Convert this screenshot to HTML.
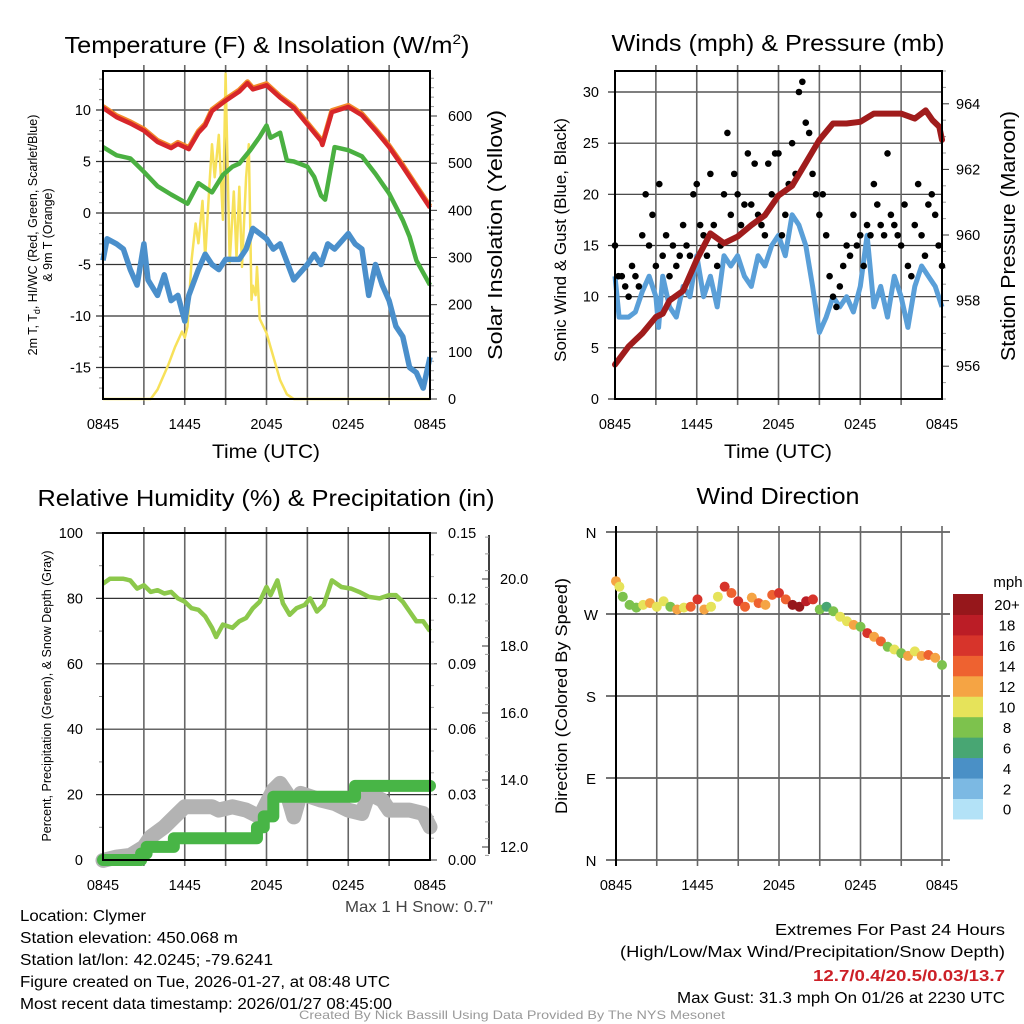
<!DOCTYPE html>
<html><head><meta charset="utf-8"><style>
html,body{margin:0;padding:0;background:#fff;}
svg{display:block;font-family:"Liberation Sans",Arial,sans-serif;}
</style></head><body>
<svg id="fig" width="1024" height="1024" viewBox="0 0 1024 1024" xmlns="http://www.w3.org/2000/svg">
<rect width="1024" height="1024" fill="#fff"/>
<g id="g1"></g>
<g id="g2"></g>
<g id="g3"></g>
<g id="g4"></g>

<text x="267" y="53" font-size="23" text-anchor="middle" textLength="405" lengthAdjust="spacingAndGlyphs">Temperature (F) &amp; Insolation (W/m<tspan dy="-9" font-size="14">2</tspan><tspan dy="9">)</tspan></text>
<text x="778" y="51" font-size="23" text-anchor="middle" textLength="333" lengthAdjust="spacingAndGlyphs">Winds (mph) &amp; Pressure (mb)</text>
<text x="266" y="506" font-size="23" text-anchor="middle" textLength="457" lengthAdjust="spacingAndGlyphs">Relative Humidity (%) &amp; Precipitation (in)</text>
<text x="778" y="504" font-size="23" text-anchor="middle" textLength="163" lengthAdjust="spacingAndGlyphs">Wind Direction</text>

<text x="266" y="458" font-size="19" text-anchor="middle" textLength="108" lengthAdjust="spacingAndGlyphs">Time (UTC)</text>
<text x="778" y="458" font-size="19" text-anchor="middle" textLength="108" lengthAdjust="spacingAndGlyphs">Time (UTC)</text>

<text transform="translate(37,235) rotate(-90)" font-size="12.5" text-anchor="middle">2m T, T<tspan font-size="9" dy="3">d</tspan><tspan dy="-3">, HI/WC (Red, Green, Scarlet/Blue)</tspan></text>
<text transform="translate(52,235) rotate(-90)" font-size="12.5" text-anchor="middle">&amp; 9m T (Orange)</text>
<text transform="translate(502,235) rotate(-90)" font-size="20" text-anchor="middle" textLength="250" lengthAdjust="spacingAndGlyphs">Solar Insolation (Yellow)</text>
<text transform="translate(566,240) rotate(-90)" font-size="17" text-anchor="middle">Sonic Wind &amp; Gust (Blue, Black)</text>
<text transform="translate(1015,236) rotate(-90)" font-size="20" text-anchor="middle" textLength="250" lengthAdjust="spacingAndGlyphs">Station Pressure (Maroon)</text>
<text transform="translate(51,696) rotate(-90)" font-size="12.5" text-anchor="middle">Percent, Precipitation (Green), &amp; Snow Depth (Gray)</text>
<text transform="translate(567,696) rotate(-90)" font-size="17" text-anchor="middle" textLength="236" lengthAdjust="spacingAndGlyphs">Direction (Colored By Speed)</text>

<text x="493" y="912" font-size="16" text-anchor="end" fill="#444" textLength="148" lengthAdjust="spacingAndGlyphs">Max 1 H Snow: 0.7"</text>
<g font-size="15.5" fill="#000">
<text x="20" y="921" textLength="126" lengthAdjust="spacingAndGlyphs">Location: Clymer</text>
<text x="20" y="943" textLength="218" lengthAdjust="spacingAndGlyphs">Station elevation: 450.068 m</text>
<text x="20" y="965" textLength="253" lengthAdjust="spacingAndGlyphs">Station lat/lon: 42.0245; -79.6241</text>
<text x="20" y="987" textLength="370" lengthAdjust="spacingAndGlyphs">Figure created on Tue, 2026-01-27, at 08:48 UTC</text>
<text x="20" y="1009" textLength="372" lengthAdjust="spacingAndGlyphs">Most recent data timestamp: 2026/01/27 08:45:00</text>
</g>
<g font-size="15.5" text-anchor="end">
<text x="1005" y="935" textLength="230" lengthAdjust="spacingAndGlyphs">Extremes For Past 24 Hours</text>
<text x="1005" y="957" textLength="385" lengthAdjust="spacingAndGlyphs">(High/Low/Max Wind/Precipitation/Snow Depth)</text>
<text x="1005" y="981" font-weight="bold" fill="#cc2027" textLength="192" lengthAdjust="spacingAndGlyphs">12.7/0.4/20.5/0.03/13.7</text>
<text x="1005" y="1003" textLength="328" lengthAdjust="spacingAndGlyphs">Max Gust: 31.3 mph On 01/26 at 2230 UTC</text>
</g>
<text x="512" y="1019" font-size="12" text-anchor="middle" fill="#999" textLength="426" lengthAdjust="spacingAndGlyphs">Created By Nick Bassill Using Data Provided By The NYS Mesonet</text>
</svg>
<script>
// ---------- data ----------
const tempHours=[0,1,2,3,4,5,5.5,6.3,7,7.5,8,9,10,10.6,11,12,13,14,15,16,16.1,16.8,18,19,20,21,22,23,24];
const tempVals=[10.2,9.3,8.7,8.0,6.9,6.3,6.7,6.2,7.8,8.5,9.9,10.9,11.8,12.6,12.0,12.4,11.2,10.2,8.6,7.0,6.6,9.8,10.3,9.5,8.0,6.4,4.5,2.5,0.5];
const dewHours=[0,1,2,3,4,5,6.2,7,8,8.8,9.5,10,10.8,11.5,12,12.3,13,13.5,14,15,15.5,16,16.3,17,18,19,20,21,22,22.5,23,24];
const dewVals=[6.4,5.6,5.3,4.0,2.6,1.8,0.9,2.9,2.0,3.7,4.5,4.8,6.1,7.4,8.5,7.3,7.8,5.1,5.0,4.5,3.5,1.7,1.3,6.4,6.1,5.5,3.8,1.9,-0.7,-2.3,-4.6,-7.0];
const chillHours=[0,0.3,1,1.5,2,2.5,3,3.3,4,4.5,5,5.5,6,6.3,7,7.5,8,8.5,9,10,10.5,11,11.5,12,12.5,13,14,15,15.5,16,16.5,17,18,18.5,19,19.5,20,20.5,21,21.5,22,22.5,23,23.5,24];
const chillVals=[-4.6,-2.5,-3,-3.5,-5.5,-7,-3,-6.5,-8,-6,-8.5,-8,-10.5,-8,-5.5,-4,-5,-5.5,-4.5,-4.5,-3.5,-1.5,-2,-2.5,-3.5,-3,-6.5,-5,-4,-5,-3,-3.5,-2,-3,-3.5,-8,-5,-7,-8.5,-11,-12,-15,-15.5,-17,-14];
const solarHours=[0,3.5,4,4.8,5.3,5.8,6.0,6.2,6.5,6.8,7.0,7.3,7.5,7.8,8.0,8.2,8.5,8.8,9.0,9.1,9.3,9.6,9.8,10.0,10.2,10.5,10.7,10.9,11.0,11.2,11.3,11.5,12.0,12.5,13.0,13.5,14,24];
const solarVals=[0,0,20,73,111,143,130,154,295,372,330,420,300,450,540,470,560,380,690,550,290,440,300,450,280,470,540,210,240,220,280,170,140,90,40,10,0,0];
const presHours=[0,1,2,3,3.5,4,5,6,7,8,9,10,11,12,13,14,15,16,17,18,19,20,21,22,22.8,23.3,23.8,24];
const presVals=[956.05,956.6,957.0,957.5,957.6,958.0,958.3,959.25,960.05,959.75,959.95,960.3,960.6,961.2,961.5,962.2,962.9,963.4,963.4,963.45,963.7,963.7,963.7,963.55,963.8,963.5,963.3,962.9];
const windHours=[0,0.3,1,1.5,2,2.5,3,3.2,3.5,4,4.5,5,5.5,6,6.5,7,7.5,8,8.5,9,9.5,10,10.5,11,11.5,12,12.5,13,13.5,14,14.5,15,15.5,16,16.5,17,17.5,18,18.5,19,19.5,20,20.5,21,21.5,22,22.5,23,23.5,24];
const windVals=[12,8,8,8.5,10.5,12,10,7,12,9,8,11,10,14,10,12,9,14,13,14,12,11,14,13,15,16,14,18,17,15,11,6.5,8,10,9,10,8.5,11,16,9,11,8,12,10,7,11,13,12,11,9];
const gustVals=[15,12,12,11,10,13,12,11,16,20,15,18,13,21,14,16,12,15,13,14,17,15,14,20,21,17,16,14,22,17,13,15,20,26,18,22,20,17,19,24,19,23,18,17,16,23,20,24,24,16,18,21,25,22,30,31,27,26,22,20,18,20,16,12,10,9,11,13,15,14,18,15,16,13,17,16,21,19,17,16,24,18,17,16,15,19,13,12,17,21,16,14,19,20,18,15,13];
const rhHours=[0,0.5,1.5,2,2.5,3,3.5,4,4.5,5,5.5,6,6.5,7,7.5,8,8.3,8.8,9.5,10,10.5,11,11.5,12,12.3,12.8,13.2,13.7,14.2,14.8,15.2,15.7,16.2,16.8,17.5,18.2,18.8,19.5,20.3,21,21.5,22,22.5,23,23.5,24];
const rhVals=[84.5,86,86,85.5,83,84,82,82.5,81.5,82,80,79,77,76.5,74.5,71,68.2,72,71,73,74,77,79,83.5,81,85.5,78.5,75,77,78,80,76,78,85.5,83.5,83,82,80.5,80,81,81,79,76,73,73,70];
const snowHours=[0,1,2,3,3.5,4.5,5.5,6,7,8,8.5,9.5,10.5,11.5,12,12.5,13,13.5,14,14.5,16,17,18,19,19.5,20.5,21,22,22.5,23.5,24];
const snowVals=[11.6,11.7,11.75,12.0,12.3,12.6,13.0,13.2,13.2,13.2,13.1,13.2,13.1,12.9,13.3,13.7,13.9,13.6,12.9,13.6,13.4,13.3,13.1,13.0,13.6,13.4,13.1,13.1,13.1,13.0,12.6];
const precipHours=[0,2.8,3.2,5.2,11.3,11.8,12.5,18.5,24];
const precipVals=[0,0.003,0.006,0.01,0.015,0.02,0.029,0.034,0.034];
const dirHours=[0,0.25,0.5,1,1.5,2,2.5,3,3.5,4,4.5,5,5.5,6,6.5,7,7.5,8,8.5,9,9.5,10,10.5,11,11.5,12,12.5,13,13.5,14,14.5,15,15.5,16,16.5,17,17.5,18,18.5,19,19.5,20,20.5,21,21.5,22,22.5,23,23.5,24];
const dirVals=[306,300,289,280,277,280,282,278,284,278,275,277,278,286,275,278,289,300,293,284,278,288,282,280,291,293,286,280,278,284,286,275,278,273,267,262,258,256,249,245,240,234,231,227,224,229,224,225,222,214];
const dirSpeeds=[12,10,8,8,8,11,12,10,10,9,12,10,15,16,12,10,10,16,14,17,15,12,14,12,15,16,15,20,21,18,17,8,7,9,10,11,12,9,16,12,14,8,10,9,12,11,13,14,13,8];
const speedBins=['0','2','4','6','8','10','12','14','16','18','20+'];
const speedColors=['#b3e2f7','#7cb9e3','#4a90c6','#48a673','#7dc24d','#e6e35a','#f5a444','#ee6230','#d7342b','#bb1d26','#96171b'];
const timeLabels=['0845','1445','2045','0245','0845'];
const tempTicks=[10,5,0,-5,-10,-15];
const solarTicks=[0,100,200,300,400,500,600];
const windTicks=[0,5,10,15,20,25,30];
const presTicks=[956,958,960,962,964];
const rhTicks=[0,20,40,60,80,100];
const precipTicks=['0.00','0.03','0.06','0.09','0.12','0.15'];
const snowTicks=['12.0','14.0','16.0','18.0','20.0'];
const dirTicks=['N','E','S','W','N'];

// ---------- helpers ----------
const NS='http://www.w3.org/2000/svg';
function mk(parent,tag,attrs){const e=document.createElementNS(NS,tag);for(const k in attrs)e.setAttribute(k,attrs[k]);parent.appendChild(e);return e;}
function lin(d0,d1,p0,p1){return v=>p0+(v-d0)*(p1-p0)/(d1-d0);}
function pathD(xs,ys,fx,fy){return xs.map((h,i)=>(i?'L':'M')+fx(h).toFixed(1)+','+fy(ys[i]).toFixed(1)).join('');}
function stepD(xs,ys,fx,fy){let d='';xs.forEach((h,i)=>{if(i===0)d+='M'+fx(h)+','+fy(ys[i]);else{d+='L'+fx(h)+','+fy(ys[i-1])+'L'+fx(h)+','+fy(ys[i]);}});return d;}

function frame(g,L,R,T,B,opts){
  const fx=lin(0,24,L,R);
  for(let h=3;h<24;h+=3){
    const l=mk(g,'line',{x1:fx(h),x2:fx(h),y1:T-6,y2:B+6,stroke:'#666','stroke-width':1.6});
    
    
  }
  timeLabels.forEach((t,i)=>{
    const x=fx(i*6);
    const tx=mk(g,'text',{x:x,y:opts.labY,'font-size':14.5,'text-anchor':'middle'});tx.textContent=t;
    
    
  });
}

// ---------- Panel 1 ----------
(function(){
  const g=document.getElementById('g1');const L=103,R=430,T=71,B=399;
  const fx=lin(0,24,L,R), fy=lin(0,10,213,110), fs=lin(0,600,399,116);
  tempTicks.forEach(v=>{
    const l=mk(g,'line',{x1:L-7,x2:R,y1:fy(v),y2:fy(v),stroke:'#333','stroke-width':1.2});
    
    
    const t=mk(g,'text',{x:L-12,y:fy(v)+5,'font-size':14.5,'text-anchor':'end'});t.textContent=v;
    
    
  });
  for(let v=-17;v<=13;v++){if(v%5)mk(g,'line',{x1:L-4,x2:L,y1:fy(v),y2:fy(v),stroke:'#888','stroke-width':1});}
  for(let v=0;v<=680;v+=20){mk(g,'line',{x1:R,x2:R+(v%100?4:7),y1:fs(v),y2:fs(v),stroke:v%100?'#999':'#333','stroke-width':1});}
  solarTicks.forEach(v=>{
    const t=mk(g,'text',{x:R+18,y:fs(v)+5,'font-size':14.5});t.textContent=v;
    
    
  });
  frame(g,L,R,T,B,{labY:429});
  const sol=mk(g,'path',{d:pathD(solarHours,solarVals,fx,fs),fill:'none',stroke:'#f7e15a','stroke-width':2.5,'stroke-linejoin':'round'});
  
  
  const ch=mk(g,'path',{d:pathD(chillHours,chillVals,fx,fy),fill:'none',stroke:'#4a8fcb','stroke-width':5.5,'stroke-linejoin':'round'});
  
  
  const dw=mk(g,'path',{d:pathD(dewHours,dewVals,fx,fy),fill:'none',stroke:'#4ab041','stroke-width':4.5,'stroke-linejoin':'round'});
  
  
  const t9=mk(g,'path',{d:pathD(tempHours,tempVals.map(v=>v+0.15),fx,fy),fill:'none',stroke:'#f38a2a','stroke-width':5,'stroke-linejoin':'round'});
  
  
  const t2=mk(g,'path',{d:pathD(tempHours,tempVals,fx,fy),fill:'none',stroke:'#d7262a','stroke-width':4.5,'stroke-linejoin':'round'});
  
  
  const fr=mk(g,'path',{d:`M${L},${T}H${R}V${B}H${L}Z`,fill:'none',stroke:'#000','stroke-width':2});
  
  
})();

// ---------- Panel 2 ----------
(function(){
  const g=document.getElementById('g2');const L=615,R=942,T=71,B=399;
  const fx=lin(0,24,L,R), fy=lin(0,30,399,92), fp=lin(955,965,399,71);
  windTicks.forEach(v=>{
    const l=mk(g,'line',{x1:L-7,x2:R,y1:fy(v),y2:fy(v),stroke:'#333','stroke-width':1.2});
    
    
    const t=mk(g,'text',{x:L-16,y:fy(v)+5,'font-size':14.5,'text-anchor':'end'});t.textContent=v;
    
    
  });
  for(let v=955;v<=965;v+=0.5){mk(g,'line',{x1:R,x2:R+(v%2===0?7:4),y1:fp(v),y2:fp(v),stroke:v%2===0?'#333':'#999','stroke-width':1});}
  presTicks.forEach(v=>{
    const t=mk(g,'text',{x:R+14,y:fp(v)+5,'font-size':14.5});t.textContent=v;
    
    
  });
  frame(g,L,R,T,B,{labY:429});
  const w=mk(g,'path',{d:pathD(windHours,windVals,fx,fy),fill:'none',stroke:'#5a9fd8','stroke-width':5,'stroke-linejoin':'round'});
  
  
  gustVals.forEach((v,i)=>{
    const c=mk(g,'circle',{cx:fx(i*0.25),cy:fy(v),r:3.3,fill:'#000'});
    
    
  });
  const p=mk(g,'path',{d:pathD(presHours,presVals,fx,fp),fill:'none',stroke:'#a01c1c','stroke-width':6,'stroke-linejoin':'round','stroke-linecap':'round'});
  
  
  const fr=mk(g,'path',{d:`M${L},${T}H${R}V${B}H${L}Z`,fill:'none',stroke:'#000','stroke-width':2});
  
  
})();

// ---------- Panel 3 ----------
(function(){
  const g=document.getElementById('g3');const L=103,R=430,T=533,B=860;
  const fx=lin(0,24,L,R), fy=lin(0,100,B,T), fq=lin(0,0.15,B,T), fs=lin(12,20,847,579);
  rhTicks.forEach(v=>{
    const l=mk(g,'line',{x1:L-7,x2:R,y1:fy(v),y2:fy(v),stroke:'#333','stroke-width':1.2});
    
    
    const t=mk(g,'text',{x:L-20,y:fy(v)+5,'font-size':14.5,'text-anchor':'end'});t.textContent=v;
    
    
  });
  for(let v=10;v<100;v+=20)mk(g,'line',{x1:L-4,x2:L,y1:fy(v),y2:fy(v),stroke:'#888'});
  precipTicks.forEach((s,i)=>{
    const v=i*0.03;
    mk(g,'line',{x1:R,x2:R+7,y1:fq(v),y2:fq(v),stroke:'#333'});
    const t=mk(g,'text',{x:R+18,y:fq(v)+5,'font-size':14.5});t.textContent=s;
    
    
  });
  for(let v=0.01;v<0.15;v+=0.01){mk(g,'line',{x1:R,x2:R+4,y1:fq(v),y2:fq(v),stroke:'#aaa'});}
  const ax=mk(g,'line',{x1:489,x2:489,y1:T+2,y2:B-6,stroke:'#000','stroke-width':1.5});
  
  
  snowTicks.forEach(s=>{
    const v=parseFloat(s);
    mk(g,'line',{x1:482,x2:489,y1:fs(v),y2:fs(v),stroke:'#333'});
    const t=mk(g,'text',{x:500,y:fs(v)+5,'font-size':14.5});t.textContent=s;
    
    
  });
  for(let v=11.75;v<21.5;v+=0.5){if(v%2)mk(g,'line',{x1:485,x2:489,y1:fs(v),y2:fs(v),stroke:'#999'});}
  frame(g,L,R,T,B,{labY:890});
  const sn=mk(g,'path',{d:pathD(snowHours,snowVals,fx,fs),fill:'none',stroke:'#b3b3b3','stroke-width':15,'stroke-linejoin':'round','stroke-linecap':'round'});
  
  
  const pr=mk(g,'path',{d:stepD(precipHours,precipVals,fx,fq),fill:'none',stroke:'#48b546','stroke-width':12,'stroke-linejoin':'round','stroke-linecap':'round'});
  
  
  const rh=mk(g,'path',{d:pathD(rhHours,rhVals,fx,fy),fill:'none',stroke:'#8cc84b','stroke-width':4.5,'stroke-linejoin':'round'});
  
  
  const fr=mk(g,'path',{d:`M${L},${T}H${R}V${B}H${L}Z`,fill:'none',stroke:'#000','stroke-width':2});
  
  
})();

// ---------- Panel 4 ----------
(function(){
  const g=document.getElementById('g4');const L=616,R=942,T=532,B=860;
  const fx=lin(0,24,L,R), fy=lin(0,360,B,T);
  dirTicks.forEach((s,i)=>{
    const v=i*90;
    const l=mk(g,'line',{x1:606,x2:950,y1:fy(v),y2:fy(v),stroke:'#222','stroke-width':1.2});
    
    
    const t=mk(g,'text',{x:591,y:fy(v)+6,'font-size':15,'text-anchor':'middle'});t.textContent=s;
    
    
  });
  frame(g,L,R,T,B,{labY:890});
  mk(g,'line',{x1:fx(24),x2:fx(24),y1:T-6,y2:B+6,stroke:'#666','stroke-width':1.6});
  mk(g,'line',{x1:L,x2:L,y1:T-6,y2:B+6,stroke:'#000','stroke-width':2});
  dirVals.forEach((v,i)=>{
    const sp=dirSpeeds[i];const bin=Math.min(10,Math.floor(sp/2));
    const c=mk(g,'circle',{cx:fx(dirHours[i]),cy:fy(v),r:5,fill:speedColors[bin]});
    
    
  });
  const cbTop=594,cbH=20.45;
  speedBins.forEach((s,i)=>{
    const y=cbTop+(10-i)*cbH;
    const r=mk(g,'rect',{x:953,y:y,width:30,height:cbH+0.5,fill:speedColors[i]});
    
    
    const t=mk(g,'text',{x:1007,y:y+cbH/2+6,'font-size':15,'text-anchor':'middle'});t.textContent=s;
    
    
  });
  const u=mk(g,'text',{x:1008,y:587,'font-size':15,'text-anchor':'middle'});u.textContent='mph';
  
  
})();
</script>
</body></html>
